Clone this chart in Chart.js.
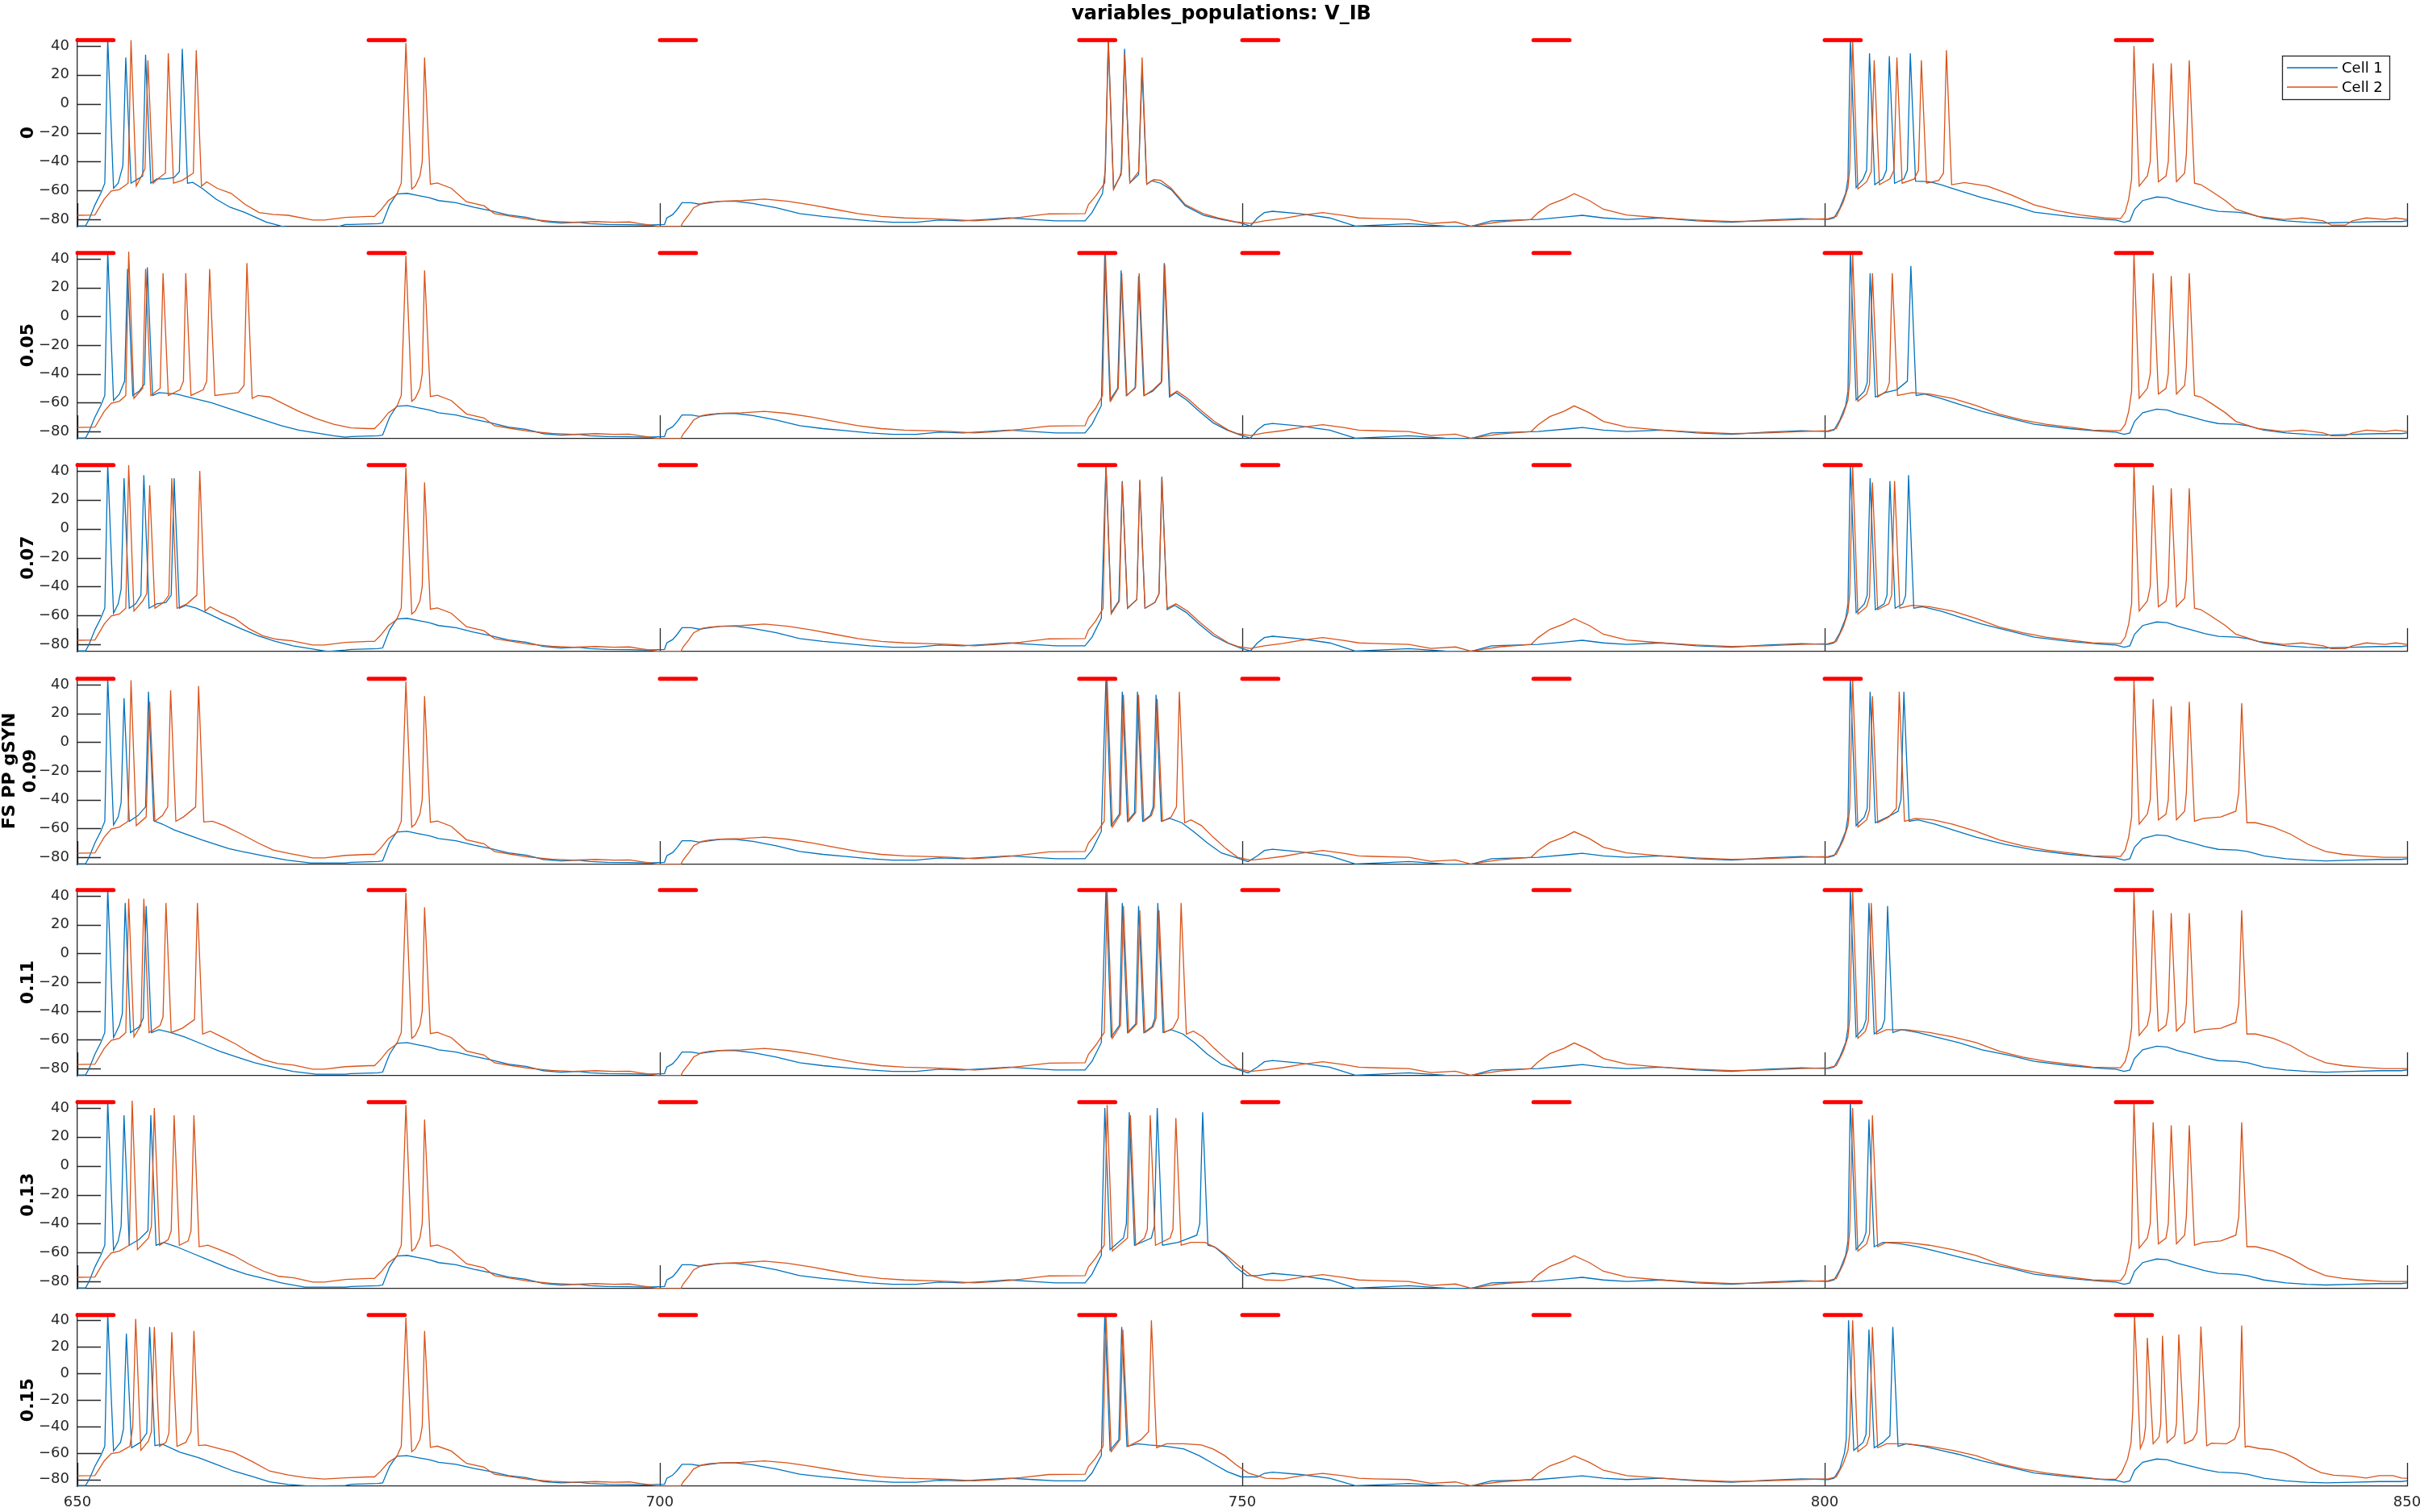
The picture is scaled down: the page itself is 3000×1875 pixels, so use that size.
<!DOCTYPE html>
<html><head><meta charset="utf-8"><title>variables_populations: V_IB</title>
<script src="https://cdn.jsdelivr.net/npm/chart.js@4.4.1/dist/chart.umd.min.js"></script>
<style>
html,body{margin:0;padding:0;background:#fff;overflow:hidden;}
#fig{position:relative;width:3000px;height:1875px;overflow:hidden;background:#fff;}
#fig canvas{position:absolute;left:0;}
</style></head><body><div id="fig"></div>
<script>
// ---------------- DATA ----------------
const chartTitle = 'variables_populations: V_IB';
const panelLabels = [['0'], ['0.05'], ['0.07'], ['FS PP gSYN', '0.09'], ['0.11'], ['0.13'], ['0.15']];
const seriesNames = ['Cell 1', 'Cell 2'];
const xTicks = [650, 700, 750, 800, 850];
const yTicks = [-80, -60, -40, -20, 0, 20, 40];
const stimOnsets = [650, 675, 700, 736, 750, 775, 800, 825];
const stimDur = 3.1;
const stimLevel = 44;

// shared stretches (pairs: time ms, V mV)
const c1Mid1 = [673.5,-83.5, 675.8,-83, 676.2,-82.5, 676.8,-70, 677.4,-62.5, 678.3,-62, 679.2,-63.5, 680.2,-65, 681,-67, 682.5,-68.5, 684,-71.5, 685.5,-74, 687,-77, 688.5,-78.5, 690,-81.5, 691.5,-82.5, 693,-82, 694,-83, 695.5,-83.5, 697.4,-83.7, 698.8,-84, 700.4,-83.5, 700.6,-79, 701.1,-76.7, 701.5,-73, 701.9,-68.5, 702.7,-68.5, 703.4,-69.5, 704.3,-68.5, 705.2,-67.5, 706.5,-67.5, 708,-69, 710,-72, 712,-76, 714,-78, 716,-79.5, 718,-81, 720,-82, 722,-82, 724,-80.5, 726,-81, 728,-80, 730,-79, 732,-80, 734,-81];
const c2Mid1 = [675.5,-78, 676,-74, 676.7,-67, 677.4,-63, 677.8,-55, 678.2,42, 678.7,-59, 679,-57, 679.4,-50, 679.6,-40, 679.8,32, 680.3,-55.7, 680.9,-54.8, 682.1,-58.5, 683.4,-67.8, 684.9,-70.6, 685.8,-76, 687.3,-78, 688.8,-79.9, 690.7,-81.3, 692.5,-82, 694.5,-81.5, 696,-82, 697.4,-81.8, 698.3,-83, 699.2,-84, 700,-85, 701.8,-85, 702,-81.8, 702.5,-76.7, 702.9,-72, 703.6,-69, 704.3,-68, 705.5,-67.3, 707,-67, 709,-66, 711,-67.5, 713,-70, 715,-73, 717,-76, 719,-78, 721,-79, 723,-79.5, 725,-80, 727,-81, 729,-80, 731,-78.5, 733.4,-76.2];
const c1Mid2 = [751.9,-75.3, 752.6,-74.4, 755,-76.2, 757.5,-79, 759.7,-84.6, 762.5,-83.7, 764.3,-83, 767.4,-84.6, 769.6,-85, 771.4,-81, 773.6,-80.5, 775.4,-80, 778.2,-78, 779.2,-77.2, 781,-79, 783,-80, 786,-79, 789,-81, 792,-82, 795,-80.5, 798,-79.5];
const c2Mid2 = [753.5,-79.4, 755,-77.2, 756.9,-75.3, 758.7,-77.2, 760,-79, 761.2,-79.4, 764.3,-80, 766.2,-82.8, 768.3,-81.8, 769.6,-84.6, 770.5,-83.7, 772,-81.8, 774.8,-80, 775.4,-75.3, 776.4,-69.7, 777.6,-66, 778.5,-62.2, 779.8,-67, 781,-73, 783,-77, 786,-79, 789,-80.5, 792,-81.5, 795,-81, 798,-80];
const c1Tail = [825,-80.5, 825.7,-82, 826.2,-81, 826.6,-73, 827.3,-67, 828.5,-64.5, 829.4,-65, 830.3,-67.5, 831.5,-70, 832.6,-72.5, 833.8,-74.5, 835.4,-75, 836.3,-76, 837.7,-79, 839.6,-81, 841.4,-82, 843,-82.5, 845.3,-82, 847.6,-81.5, 849.5,-81.5, 850,-81];

// ---- gSYN 0 ----
const c1A_0 = [650,-84.5, 650.7,-84.5, 651,-80, 651.5,-70, 652,-62, 652.35,-55, 652.6,45, 653.1,-58.5, 653.5,-55, 653.9,-43, 654.15,32, 654.6,-55, 655,-53, 655.6,-50, 655.85,34, 656.3,-55, 656.8,-52, 657.5,-52, 658.3,-51, 658.75,-47, 659,38, 659.45,-55, 659.9,-54.4, 660.7,-58.5, 661.9,-66, 663.1,-71.6, 664.4,-75.3, 666.2,-81.8, 667.5,-84.6, 668.5,-86, 672,-86, 673,-83.5];
const c2A_0 = [650,-77.2, 651.5,-77, 652.3,-66, 652.9,-60.4, 653.6,-59.4, 654.35,-55, 654.6,44, 655.05,-57, 655.5,-50, 655.8,-45, 656.05,30, 656.5,-55, 656.9,-52, 657.55,-48, 657.8,35, 658.25,-55, 659,-53, 659.95,-48, 660.2,37, 660.65,-57, 661.1,-54, 662,-58.5, 663.2,-62, 664.4,-69.7, 665.6,-75.3, 666.8,-76.6, 668.1,-77.2, 670.2,-80.5, 671.2,-80.5, 673,-78.7, 675,-78];
const c1D_0 = [736.5,-81, 737.1,-75.3, 738,-62.2, 738.25,-45, 738.5,44, 738.95,-58.5, 739.6,-49, 739.9,38, 740.35,-54.8, 741.1,-49, 741.4,24, 741.8,-55.7, 742.2,-53.3, 743,-55, 743.9,-59.4, 745.1,-70.6, 746.7,-77.2, 748.2,-80, 749.8,-82.4, 750.7,-84.6, 751.3,-79];
const c2D_0 = [736.5,-76, 736.8,-69.7, 737.4,-64, 738.2,-54.8, 738.5,45, 738.95,-59.4, 739.5,-50, 739.65,-45, 739.9,35, 740.35,-54.8, 741.1,-47, 741.4,32, 741.8,-55.7, 742.4,-52.5, 743,-53, 743.9,-58.5, 745.1,-69.7, 746.7,-76.2, 747.9,-79, 749.5,-81.8, 750.7,-82.8, 751.9,-81];
const c1G_0 = [800.3,-80, 800.8,-79, 801.3,-72, 801.8,-62, 802,-52, 802.2,45, 802.7,-58, 803.3,-52, 803.6,-46, 803.85,35, 804.3,-56, 805,-52, 805.3,-46, 805.55,33, 806,-55, 806.8,-52, 807.1,-46, 807.35,35, 807.8,-53.5, 809,-54, 810,-56, 811.5,-60, 813.5,-65, 816,-70, 818,-75, 821,-78, 824,-80];
const c2G_0 = [800.3,-79.5, 801,-78, 801.6,-68, 802,-58, 802.15,-45, 802.4,44, 802.85,-59, 803.6,-54, 804,-47, 804.25,30, 804.7,-56, 805.6,-52, 805.95,-46, 806.2,32, 806.65,-55, 807.7,-52, 808.05,-46, 808.3,30, 808.75,-55, 809.8,-53, 810.2,-48, 810.45,37, 810.9,-56, 812,-54.5, 814,-57, 816,-63, 818,-70, 820,-74, 822,-77, 824,-79];
const c2H_0 = [825.4,-79.5, 825.8,-75, 826.1,-66, 826.35,-52, 826.55,40, 827,-57, 827.7,-50, 827.95,-40, 828.2,28, 828.65,-54, 829.3,-50, 829.5,-40, 829.75,28, 830.2,-54, 830.9,-48, 831.05,-35, 831.3,30, 831.75,-55, 832.3,-56, 833.1,-60, 834.4,-67, 835.3,-73, 837.2,-78, 839.4,-80, 841,-79, 842.8,-81, 843.5,-84, 844.7,-84, 845.3,-81, 846.5,-79, 848.1,-80, 849,-79, 850,-80];

// ---- gSYN 0.05 ----
const c1A_05 = [650,-84.5, 650.7,-84.5, 651,-80, 651.5,-70, 652,-62, 652.35,-55, 652.6,45, 653.1,-58.5, 653.6,-54, 654.05,-45, 654.3,33, 654.75,-55, 655.3,-52, 655.75,-47, 656,34, 656.45,-55, 657,-53, 658.5,-54, 660,-57, 661.5,-60, 663,-64, 664.5,-68, 666,-72, 667.5,-76, 669,-79, 670.5,-81, 672,-83, 673,-84];
const c2A_05 = [650,-77.2, 651.5,-77, 652.3,-66, 652.9,-60.4, 653.6,-59, 654.15,-55, 654.4,45, 654.85,-57, 655.6,-50, 655.85,33, 656.3,-55, 657.1,-50, 657.35,30, 657.8,-55, 658.8,-51, 659.1,-45, 659.3,30, 659.75,-55, 660.8,-51, 661.1,-45, 661.35,33, 661.8,-55, 662.8,-54, 663.8,-53, 664.3,-48, 664.55,37, 665,-57, 665.5,-55, 666.5,-56, 667.5,-60, 669,-66, 670.5,-71, 672,-75, 673.5,-77.5, 675,-78];
const c1D_05 = [736.5,-81, 737.1,-75, 737.9,-62, 738.2,45, 738.65,-58, 739.3,-50, 739.6,32, 740.05,-55, 740.8,-50, 741.1,28, 741.55,-55, 742.3,-52, 743.05,-46, 743.3,37, 743.75,-56, 744.3,-53, 745.2,-58, 746.3,-66, 747.5,-74, 748.7,-79, 749.8,-82.4, 750.7,-84.6, 751.3,-79];
const c2D_05 = [736.5,-76, 736.8,-70, 737.4,-64, 738,-55, 738.25,44, 738.7,-59, 739.35,-50, 739.65,30, 740.1,-55, 740.85,-49, 741.15,30, 741.6,-55, 742.35,-51, 743.1,-45, 743.35,36, 743.8,-55, 744.4,-52, 745.3,-57, 746.4,-65, 747.6,-73, 748.8,-79, 749.6,-81.5, 750.7,-82.8, 751.9,-81];
const c1G_05 = [800.3,-80, 800.8,-79, 801.3,-72, 801.8,-62, 802,-52, 802.2,45, 802.7,-58, 803.4,-52, 803.65,-46, 803.9,30, 804.35,-56, 805.2,-53, 806.2,-51, 807.1,-45, 807.4,35, 807.85,-55, 808.6,-54, 810,-57, 811.5,-61, 813.5,-66, 816,-71, 818,-75, 821,-78, 824,-80];
const c2G_05 = [800.3,-79.5, 801,-78, 801.6,-68, 802,-58, 802.15,-45, 802.4,44, 802.85,-59, 803.6,-54, 803.85,-47, 804.1,30, 804.55,-56, 805.3,-52, 805.55,-46, 805.8,30, 806.25,-55, 807.5,-53, 809,-54, 811,-57, 813,-62, 815,-68, 817,-72, 819,-75, 821,-77, 823,-79];
const c2H_05 = [825.4,-79.5, 825.8,-75, 826.1,-66, 826.35,-52, 826.55,45, 827,-57, 827.7,-50, 827.95,-40, 828.2,30, 828.65,-54, 829.3,-50, 829.5,-40, 829.75,28, 830.2,-54, 830.9,-48, 831.05,-35, 831.3,30, 831.75,-55, 832.3,-56, 833.1,-60, 834.4,-67, 835.3,-73, 837.2,-78, 839.4,-80, 841,-79, 842.8,-81, 843.5,-83, 844.7,-83, 845.3,-81, 846.5,-79, 848.1,-80, 849,-79, 850,-80];

// ---- gSYN 0.07 ----
const c1A_07 = [650,-84.5, 650.7,-84.5, 651,-80, 651.5,-70, 652,-62, 652.35,-55, 652.6,45, 653.1,-58.5, 653.5,-52, 653.75,-42, 654,35, 654.45,-55, 655,-52, 655.45,-46, 655.7,37, 656.15,-55, 656.8,-52, 657.6,-51, 658.05,-46, 658.3,35, 658.75,-55, 659.3,-53, 660.2,-55, 661.3,-59, 662.6,-64, 664,-69, 665.5,-74, 667,-78, 668.5,-81, 670,-83, 671.5,-85, 673,-84];
const c2A_07 = [650,-77.2, 651.5,-77, 652.3,-66, 652.9,-60.4, 653.6,-59, 654.15,-55, 654.4,44, 654.85,-57, 655.6,-50, 655.95,-45, 656.2,30, 656.65,-55, 657.4,-51, 657.85,-46, 658.1,35, 658.55,-55, 659.4,-52, 660.25,-46, 660.5,40, 660.95,-57, 661.4,-54, 662.3,-58, 663.5,-62, 664.7,-69, 665.9,-74, 667.1,-76.5, 668.4,-77.5, 670.2,-80.5, 671.2,-80.5, 673,-78.7, 675,-78];
const c1D_07 = [736.5,-81, 737.1,-75, 737.9,-62, 738.3,45, 738.75,-58, 739.4,-50, 739.7,33, 740.15,-55, 740.95,-49, 741.2,33, 741.65,-55, 742.5,-51, 742.85,-45, 743.1,36, 743.55,-56, 744.2,-53, 745.2,-58, 746.3,-66, 747.5,-74, 748.7,-79, 749.8,-82.4, 750.7,-84.6, 751.3,-79];
const c2D_07 = [736.5,-76, 736.8,-70, 737.4,-64, 738.05,-55, 738.3,44, 738.75,-59, 739.45,-50, 739.7,32, 740.15,-55, 740.95,-49, 741.2,34, 741.65,-55, 742.5,-51, 742.85,-45, 743.1,35, 743.55,-55, 744.3,-52, 745.3,-57, 746.4,-65, 747.6,-73, 748.8,-79, 749.6,-81.5, 750.7,-82.8, 751.9,-81];
const c1G_07 = [800.3,-80, 800.8,-79, 801.3,-72, 801.8,-62, 802,-52, 802.2,45, 802.7,-58, 803.4,-52, 803.65,-46, 803.9,35, 804.35,-56, 805.1,-52, 805.35,-46, 805.6,33, 806.05,-55, 806.7,-52, 806.95,-46, 807.2,37, 807.65,-55, 808.4,-54, 810,-57, 811.5,-61, 813.5,-66, 816,-71, 818,-75, 821,-78, 824,-80];
const c2G_07 = [800.3,-79.5, 801,-78, 801.6,-68, 802,-58, 802.15,-45, 802.4,44, 802.85,-59, 803.6,-54, 803.85,-47, 804.1,32, 804.55,-56, 805.5,-52, 805.75,-46, 806,33, 806.45,-55, 807.5,-53, 809,-54, 811,-57, 813,-62, 815,-68, 817,-72, 819,-75, 821,-77, 823,-79];
const c2H_07 = [825.4,-79.5, 825.8,-75, 826.1,-66, 826.35,-52, 826.55,45, 827,-57, 827.7,-50, 827.95,-40, 828.2,30, 828.65,-54, 829.3,-50, 829.5,-40, 829.75,28, 830.2,-54, 830.9,-48, 831.05,-35, 831.3,28, 831.75,-55, 832.3,-56, 833.1,-60, 834.4,-67, 835.3,-73, 837.2,-78, 839.4,-80, 841,-79, 842.8,-81, 843.5,-83, 844.7,-83, 845.3,-81, 846.5,-79, 848.1,-80, 849,-79, 850,-80];

// ---- gSYN 0.09 ----
const c1A_09 = [650,-84.5, 650.7,-84.5, 651,-80, 651.5,-70, 652,-62, 652.35,-55, 652.6,45, 653.1,-57.6, 653.5,-52, 653.75,-42, 654,30.5, 654.45,-55, 655.2,-51, 655.85,-45, 656.1,35, 656.55,-54.6, 657.3,-57, 658.3,-61, 660.7,-68, 663,-74, 664.1,-76, 666,-79, 668,-82, 670,-84, 673,-84];
const c2A_09 = [650,-77.2, 651.5,-77, 652.3,-66, 652.9,-60.4, 653.6,-59, 654.35,-55, 654.6,43, 655.05,-58, 655.9,-52, 656.2,28, 656.65,-55, 657.3,-51, 657.75,-45, 658,36, 658.45,-55, 659.1,-52, 660.15,-45, 660.4,39, 660.85,-55.5, 661.6,-55, 662.6,-58, 664.1,-64, 665.5,-70, 666.8,-75, 668.1,-77.2, 670.2,-80.5, 671.2,-80.5, 673,-78.7, 675,-78];
const c1D_09 = [736.5,-81, 737.1,-75, 737.9,-62, 738.3,45, 738.75,-58, 739.45,-50, 739.7,35, 740.15,-55, 740.75,-49, 741,35, 741.45,-55, 742.1,-51, 742.35,-45, 742.6,33, 743.05,-55, 743.8,-53, 744.8,-56, 745.8,-62, 747,-70, 748.2,-77, 749.4,-80, 750.5,-83, 751.3,-79];
const c2D_09 = [736.5,-76, 736.8,-70, 737.4,-64, 738.15,-55, 738.4,44, 738.85,-59, 739.55,-50, 739.8,33, 740.25,-55, 740.85,-49, 741.1,33, 741.55,-55, 742.2,-51, 742.45,-45, 742.7,30, 743.15,-55, 743.9,-52, 744.35,-45, 744.6,35, 745.05,-56, 745.6,-54, 746.5,-58, 747.5,-66, 748.6,-74, 749.6,-80, 750.7,-82, 751.9,-81];
const c1G_09 = [800.3,-80, 800.8,-79, 801.3,-72, 801.8,-62, 802,-52, 802.2,45, 802.7,-58, 803.4,-52, 803.65,-46, 803.9,35, 804.35,-56, 805.4,-52, 806.3,-48, 806.55,-40, 806.8,35, 807.25,-55, 808,-54, 809.5,-57, 811,-61, 813,-66, 815.5,-71, 818,-75, 821,-78, 824,-80];
const c2G_09 = [800.3,-79.5, 801,-78, 801.6,-68, 802,-58, 802.15,-45, 802.4,44, 802.85,-59, 803.6,-54, 803.85,-47, 804.1,32, 804.55,-56, 805.5,-52, 806.15,-46, 806.4,35, 806.85,-55, 807.8,-53, 809.3,-54, 811,-57, 813,-62, 815,-68, 817,-72, 819,-75, 821,-77, 823,-79];
const c2H_09 = [825.4,-79.5, 825.8,-75, 826.1,-66, 826.35,-52, 826.55,44, 827,-57, 827.7,-50, 827.95,-40, 828.2,30, 828.65,-54, 829.3,-50, 829.5,-40, 829.75,25, 830.2,-54, 830.9,-48, 831.05,-35, 831.3,28, 831.75,-55, 832.5,-53, 834,-52, 835.3,-48, 835.55,-35, 835.8,27, 836.25,-56, 837,-56, 838.5,-59, 840,-64, 841.5,-71, 843,-76, 844.5,-78, 846,-79, 848,-80, 850,-80];

// ---- gSYN 0.11 ----
const c1A_11 = [650,-84.5, 650.7,-84.5, 651,-80, 651.5,-70, 652,-62, 652.35,-55, 652.6,45, 653.1,-58.5, 653.6,-50, 653.85,-42, 654.1,35, 654.55,-55, 655.3,-51, 655.65,-45, 655.9,33, 656.35,-55, 657,-53, 658,-55, 659.2,-58, 660.7,-63, 662.2,-68, 663.7,-72, 665.2,-76, 666.8,-79, 668.5,-82, 670.5,-84, 673,-84];
const c2A_11 = [650,-77.2, 651.5,-77, 652.3,-66, 652.9,-60.4, 653.6,-59, 654.15,-55, 654.4,38, 654.85,-58, 655.45,-50, 655.7,38, 656.15,-55, 657.1,-50, 657.35,-44, 657.6,35, 658.05,-55, 659,-52, 660.05,-46, 660.3,35, 660.75,-56, 661.4,-54, 662.4,-58, 663.6,-63, 664.8,-69, 666,-74, 667.2,-76.5, 668.5,-77.5, 670.2,-80.5, 671.2,-80.5, 673,-78.7, 675,-78];
const c1D_11 = [736.5,-81, 737.1,-75, 737.9,-62, 738.3,45, 738.75,-58, 739.45,-50, 739.7,35, 740.15,-55, 740.85,-49, 741.1,33, 741.55,-55, 742.25,-51, 742.5,-45, 742.75,35, 743.2,-55, 743.9,-53, 744.9,-56, 745.9,-62, 747,-70, 748.2,-77, 749.4,-80, 750.5,-83, 751.3,-79];
const c2D_11 = [736.5,-76, 736.8,-70, 737.4,-64, 738.15,-55, 738.4,44, 738.85,-59, 739.55,-50, 739.8,33, 740.25,-55, 740.95,-49, 741.2,30, 741.65,-55, 742.35,-51, 742.6,-45, 742.85,30, 743.3,-55, 744.05,-52, 744.5,-45, 744.75,35, 745.2,-56, 745.8,-54, 746.6,-58, 747.6,-66, 748.7,-74, 749.6,-80, 750.7,-82, 751.9,-81];
const c1G_11 = [800.3,-80, 800.8,-79, 801.3,-72, 801.8,-62, 802,-52, 802.2,45, 802.7,-58, 803.3,-52, 803.55,-46, 803.8,35, 804.25,-56, 804.9,-52, 805.15,-46, 805.4,33, 805.85,-55, 806.6,-53, 808,-55, 809.5,-58, 811.5,-62, 813.5,-67, 816,-71, 818,-75, 821,-78, 824,-80];
const c2G_11 = [800.3,-79.5, 801,-78, 801.6,-68, 802,-58, 802.15,-45, 802.4,44, 802.85,-59, 803.5,-54, 803.75,-47, 804,35, 804.45,-56, 805.3,-53, 807,-53, 809,-55, 811,-58, 813,-62, 815,-68, 817,-72, 819,-75, 821,-77, 823,-79];
const c2H_11 = [825.4,-79.5, 825.8,-75, 826.1,-66, 826.35,-52, 826.55,44, 827,-57, 827.7,-50, 827.95,-40, 828.2,30, 828.65,-54, 829.3,-50, 829.5,-40, 829.75,28, 830.2,-54, 830.9,-48, 831.05,-35, 831.3,28, 831.75,-55, 832.5,-53, 834,-52, 835.3,-48, 835.55,-35, 835.8,30, 836.25,-56, 837,-56, 838.5,-59, 840,-64, 841.5,-71, 843,-76, 844.5,-78, 846,-79, 848,-80, 850,-80];

// ---- gSYN 0.13 ----
const c1A_13 = [650,-84.5, 650.7,-84.5, 651,-80, 651.5,-70, 652,-62, 652.35,-55, 652.6,45, 653.1,-58.5, 653.5,-52, 653.75,-42, 654,35, 654.45,-55, 655.3,-51, 656.05,-45, 656.3,35, 656.75,-55, 657.4,-53, 658.5,-56, 660,-61, 661.5,-66, 663,-71, 664.5,-75, 666,-78, 667.5,-81, 669.5,-84, 673,-84];
const c2A_13 = [650,-77.2, 651.5,-77, 652.3,-66, 652.9,-60.4, 653.6,-59, 654.45,-55, 654.7,45, 655.15,-58, 656.1,-50, 656.35,-42, 656.6,40, 657.05,-55, 657.8,-51, 658.05,-45, 658.3,35, 658.75,-55, 659.5,-52, 659.75,-45, 660,35, 660.45,-56, 661.2,-55, 662.2,-58, 663.4,-62, 664.7,-68, 666,-73, 667.3,-76.5, 668.6,-77.5, 670.2,-80.5, 671.2,-80.5, 673,-78.7, 675,-78];
const c1D_13 = [736.5,-81, 737.1,-75, 737.9,-62, 738.2,40, 738.65,-58, 739.8,-50, 740.05,-40, 740.3,37, 740.75,-55, 742.2,-50, 742.45,-42, 742.7,40, 743.15,-55, 744.5,-53, 746.1,-48, 746.35,-40, 746.6,37, 747.05,-55, 747.6,-56, 748.5,-62, 749.4,-70, 750.4,-76, 751.3,-76];
const c2D_13 = [736.5,-76, 736.8,-70, 737.4,-64, 738.15,-55, 738.4,42, 738.85,-59, 740.15,-50, 740.4,35, 740.85,-55, 741.6,-50, 741.85,-44, 742.1,35, 742.55,-55, 743.8,-50, 744.05,-44, 744.3,33, 744.75,-55, 745.6,-53, 746.8,-53, 747.8,-57, 748.8,-63, 749.8,-70, 750.8,-76, 752,-79];
const c1G_13 = [800.3,-80, 800.8,-79, 801.3,-72, 801.8,-62, 802,-52, 802.2,45, 802.7,-58, 803.3,-52, 803.55,-46, 803.8,32, 804.25,-56, 805,-53, 806.5,-54, 808,-56, 809.5,-59, 811.5,-63, 813.5,-67, 816,-71, 818,-75, 821,-78, 824,-80];
const c2G_13 = [800.3,-79.5, 801,-78, 801.6,-68, 802,-58, 802.15,-45, 802.4,40, 802.85,-59, 803.6,-54, 803.85,-47, 804.1,35, 804.55,-56, 805.3,-53, 807,-53, 809,-55, 811,-58, 813,-62, 815,-68, 817,-72, 819,-75, 821,-77, 823,-79];
const c2H_13 = [825.4,-79.5, 825.8,-75, 826.1,-66, 826.35,-52, 826.55,45, 827,-57, 827.7,-50, 827.95,-40, 828.2,30, 828.65,-54, 829.3,-50, 829.5,-40, 829.75,28, 830.2,-54, 830.9,-48, 831.05,-35, 831.3,28, 831.75,-55, 832.5,-53, 834,-52, 835.3,-48, 835.55,-35, 835.8,30, 836.25,-56, 837,-56, 838.5,-59, 840,-64, 841.5,-71, 843,-76, 844.5,-78, 846,-79, 848,-80, 850,-80];

// ---- gSYN 0.15 ----
const c1A_15 = [650,-84.5, 650.7,-84.5, 651,-80, 651.5,-70, 652,-62, 652.35,-55, 652.6,45, 653.1,-58.5, 653.7,-52, 653.95,-42, 654.2,30, 654.65,-56, 655.4,-52, 655.95,-45, 656.2,35, 656.65,-54.4, 657.3,-53.4, 658.8,-59.4, 660.4,-63.5, 661.9,-68.5, 663.4,-73.6, 665,-77.6, 666.5,-81.7, 668.1,-83.7, 670,-85, 673,-84.5];
const c2A_15 = [650,-77.2, 651.5,-77, 652.3,-66, 652.9,-60.4, 653.6,-59.4, 654.5,-55, 654.75,-40, 655,41, 655.45,-58, 656.1,-51, 656.35,-44, 656.6,35, 657.05,-55, 657.6,-52, 657.85,-45, 658.1,31, 658.55,-55, 659.3,-52, 659.75,-44, 660,32, 660.4,-54.4, 661,-54, 661.9,-56, 663.4,-59.4, 665,-66.4, 666.5,-73.6, 668.1,-76.6, 669.6,-78.6, 671.2,-79.6, 673,-78.7, 675,-78];
const c1D_15 = [736.5,-81, 737.1,-75, 737.9,-62, 738.2,45, 738.65,-58, 739.4,-50, 739.65,35, 740.1,-55, 741,-53, 742,-54, 743.5,-55, 745,-57, 746.3,-62, 747.5,-68, 748.7,-74, 749.9,-78, 751.3,-78];
const c2D_15 = [736.5,-76, 736.8,-70, 737.4,-64, 738.05,-55, 738.3,45, 738.75,-59, 739.5,-50, 739.75,33, 740.2,-55, 741.3,-50, 741.95,-44, 742.2,40, 742.65,-56, 743.5,-53, 745,-53, 746.5,-54, 747.5,-57, 748.5,-62, 749.5,-69, 750.5,-75, 752,-79];
const c1G_15 = [800.3,-80, 800.8,-79, 801.3,-72, 801.7,-60, 801.85,-50, 802.05,40, 802.5,-58, 803.3,-52, 803.55,-46, 803.8,33, 804.25,-56, 805,-52, 805.6,-47, 805.85,35, 806.3,-55, 807,-53, 808.5,-55, 810,-58, 811.5,-61, 813.5,-66, 816,-71, 818,-75, 821,-78, 824,-80];
const c2G_15 = [800.3,-79.5, 801,-78, 801.6,-68, 802,-58, 802.15,-45, 802.4,40, 802.85,-59, 803.6,-54, 803.85,-47, 804.1,35, 804.55,-56, 805.3,-53, 807,-53, 809,-55, 811,-58, 813,-62, 815,-68, 817,-72, 819,-75, 821,-77, 823,-79];
const c2H_15 = [823.4,-79.8, 825,-79.8, 825.5,-74.7, 826,-64.6, 826.3,-52.5, 826.45,-28, 826.6,45, 827.1,-56.6, 827.4,-50, 827.55,-40, 827.7,26.7, 828.2,-53, 828.7,-48, 828.85,-38, 829,28.3, 829.4,-52.2, 830.05,-47, 830.2,-38, 830.4,29.3, 830.9,-53, 831.6,-50, 831.95,-44.5, 832.1,-20, 832.3,35.3, 832.8,-54.6, 833.2,-52.6, 834.5,-53, 835.2,-49.5, 835.6,-40, 835.8,36, 836.1,-55.6, 836.3,-54.8, 837.3,-56.6, 838.4,-57.5, 839.6,-60.6, 840.5,-64.6, 841.6,-70.7, 842.6,-74.7, 843.7,-76.7, 845.3,-77.5, 846.5,-78.8, 847.6,-77, 848.8,-77, 849.5,-78.8, 850,-79];

const panelCell1 = [
  [c1A_0, c1Mid1, c1D_0, c1Mid2, c1G_0, c1Tail],
  [c1A_05, c1Mid1, c1D_05, c1Mid2, c1G_05, c1Tail],
  [c1A_07, c1Mid1, c1D_07, c1Mid2, c1G_07, c1Tail],
  [c1A_09, c1Mid1, c1D_09, c1Mid2, c1G_09, c1Tail],
  [c1A_11, c1Mid1, c1D_11, c1Mid2, c1G_11, c1Tail],
  [c1A_13, c1Mid1, c1D_13, c1Mid2, c1G_13, c1Tail],
  [c1A_15, c1Mid1, c1D_15, c1Mid2, c1G_15, c1Tail]
];
const panelCell2 = [
  [c2A_0, c2Mid1, c2D_0, c2Mid2, c2G_0, c2H_0],
  [c2A_05, c2Mid1, c2D_05, c2Mid2, c2G_05, c2H_05],
  [c2A_07, c2Mid1, c2D_07, c2Mid2, c2G_07, c2H_07],
  [c2A_09, c2Mid1, c2D_09, c2Mid2, c2G_09, c2H_09],
  [c2A_11, c2Mid1, c2D_11, c2Mid2, c2G_11, c2H_11],
  [c2A_13, c2Mid1, c2D_13, c2Mid2, c2G_13, c2H_13],
  [c2A_15, c2Mid1, c2D_15, c2Mid2, c2G_15, c2H_15]
];

// ---------------- LAYOUT / STYLE ----------------
const FONT = 'DejaVu Sans';
const INK = '#262626';
const COL1 = '#0072BD', COL2 = '#D95319', STIM = '#FF0000';
const PANEL_TOP = [48, 312, 575, 840, 1102, 1365, 1629];
const PANEL_BOT = [281, 544, 808, 1072, 1334, 1598, 1843];
const AX_L = 96, AX_R = 2984, CANVAS_W = 3040, TICK_LEN = 29;

function toXY(pieces) {
  const out = [];
  pieces.forEach(a => { for (let k = 0; k < a.length; k += 2) out.push({x: a[k], y: a[k + 1]}); });
  return out;
}
function stimData() {
  const out = [];
  stimOnsets.forEach(t => { out.push({x: t, y: stimLevel}, {x: t + stimDur, y: stimLevel}, {x: t + stimDur + 0.05, y: null}); });
  return out;
}

const inTicks = {
  id: 'inTicks',
  beforeDatasetsDraw(chart) {
    const {ctx, chartArea: a, scales: {x, y}} = chart;
    ctx.save();
    ctx.strokeStyle = INK; ctx.lineWidth = 1.3;
    ctx.beginPath();
    y.ticks.forEach(t => { const py = Math.round(y.getPixelForValue(t.value)) + 0.5; ctx.moveTo(a.left, py); ctx.lineTo(a.left + TICK_LEN, py); });
    x.ticks.forEach(t => { const px = Math.round(x.getPixelForValue(t.value)) + 0.5; ctx.moveTo(px, a.bottom); ctx.lineTo(px, a.bottom - TICK_LEN); });
    ctx.stroke();
    ctx.restore();
  }
};

const figTitle = {
  id: 'figTitle',
  afterDraw(chart) {
    const ctx = chart.ctx;
    ctx.save();
    ctx.fillStyle = '#000'; ctx.font = 'bold 24px "' + FONT + '"';
    ctx.textAlign = 'center'; ctx.textBaseline = 'middle';
    ctx.fillText(chartTitle, 1514, 18);
    ctx.restore();
  }
};

const boxLegend = {
  id: 'boxLegend',
  afterDraw(chart) {
    const ctx = chart.ctx;
    const bx = 2829, by = 69, bw = 133, bh = 54;
    ctx.save();
    ctx.fillStyle = '#fff'; ctx.fillRect(bx, by, bw, bh);
    ctx.strokeStyle = INK; ctx.lineWidth = 1.3; ctx.strokeRect(bx + 0.5, by + 0.5, bw, bh);
    const cols = [COL1, COL2];
    seriesNames.forEach((name, k) => {
      const yy = by + 15 + k * 24;
      ctx.strokeStyle = cols[k]; ctx.lineWidth = 1.4;
      ctx.beginPath(); ctx.moveTo(bx + 6, yy); ctx.lineTo(bx + 69, yy); ctx.stroke();
      ctx.fillStyle = '#000'; ctx.font = '18px "' + FONT + '"'; ctx.textBaseline = 'middle'; ctx.textAlign = 'left';
      ctx.fillText(name, bx + 74, yy + 1);
    });
    ctx.restore();
  }
};

const fig = document.getElementById('fig');
for (let i = 0; i < 7; i++) {
  const first = i === 0, last = i === 6;
  const cTop = first ? 0 : PANEL_TOP[i] - 26;
  const bs = last ? 32 : 26;
  const cH = PANEL_BOT[i] - cTop + bs;
  const xH = last ? 30 : 4;
  const cv = document.createElement('canvas');
  cv.width = CANVAS_W; cv.height = cH;
  cv.style.top = cTop + 'px'; cv.style.width = CANVAS_W + 'px'; cv.style.height = cH + 'px';
  fig.appendChild(cv);
  const singleLine = panelLabels[i].length === 1;
  new Chart(cv.getContext('2d'), {
    type: 'line',
    data: {
      datasets: [
        {label: 'stim', data: stimData(), borderColor: STIM, borderWidth: 5, borderCapStyle: 'round', pointRadius: 0, spanGaps: false, clip: false, order: 0},
        {label: seriesNames[1], data: toXY(panelCell2[i]), borderColor: COL2, borderWidth: 1.3, pointRadius: 0, tension: 0, order: 1},
        {label: seriesNames[0], data: toXY(panelCell1[i]), borderColor: COL1, borderWidth: 1.3, pointRadius: 0, tension: 0, order: 2}
      ]
    },
    options: {
      responsive: false, maintainAspectRatio: false, animation: false, devicePixelRatio: 1, events: [],
      layout: {padding: {left: 0, right: CANVAS_W - AX_R, top: first ? PANEL_TOP[0] : 26, bottom: bs - xH}},
      plugins: {legend: {display: false}, tooltip: {enabled: false}, title: {display: false}},
      scales: {
        x: {
          type: 'linear', min: 650, max: 850,
          afterBuildTicks: s => { s.ticks = xTicks.map(v => ({value: v})); },
          afterFit: s => { s.height = xH; },
          grid: {display: false, drawTicks: false},
          border: {display: true, color: INK, width: 1.3},
          ticks: {display: last, autoSkip: false, maxRotation: 0, padding: 10, color: INK, font: {family: FONT, size: 18}, callback: v => String(v)}
        },
        y: {
          type: 'linear', min: -85, max: 45,
          afterBuildTicks: s => { s.ticks = yTicks.map(v => ({value: v})); },
          afterFit: s => { s.width = AX_L; },
          grid: {display: false, drawTicks: false},
          border: {display: true, color: INK, width: 1.3},
          ticks: {autoSkip: false, padding: 10, color: INK, font: {family: FONT, size: 18}, callback: v => (v < 0 ? '\u2212' + Math.abs(v) : String(v))},
          title: {display: true, text: panelLabels[i], color: '#000', font: {family: FONT, size: 22, weight: 'bold', lineHeight: 1.15}, padding: {top: singleLine ? 23 : 0, bottom: 0}}
        }
      }
    },
    plugins: first ? [inTicks, figTitle, boxLegend] : [inTicks]
  });
}
</script></body></html>
